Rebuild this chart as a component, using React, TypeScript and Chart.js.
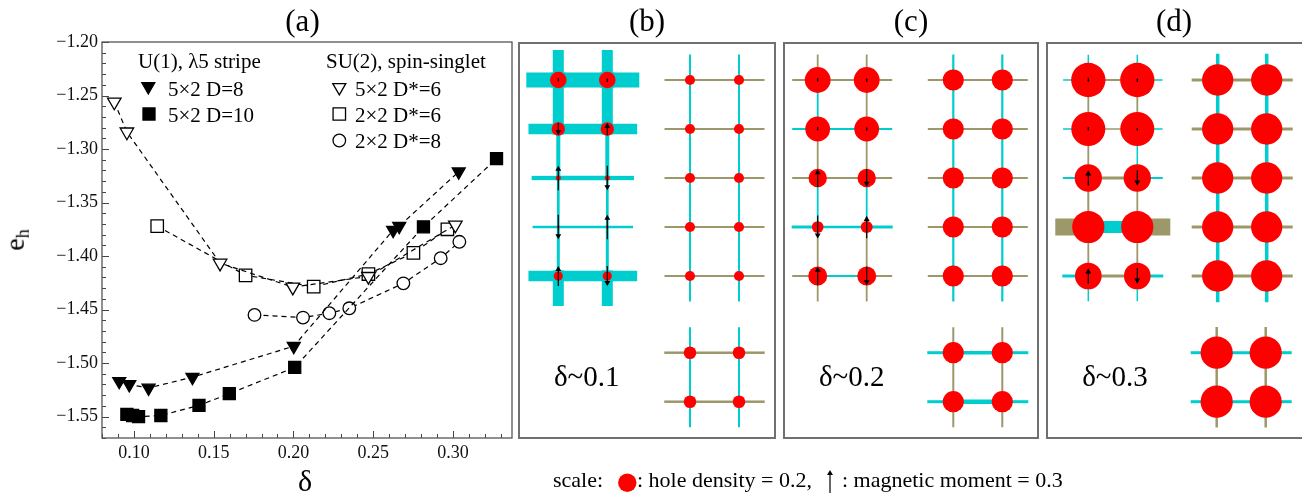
import React, { useEffect, useRef } from "react";
import Chart from "chart.js/auto";

const SERIF = "'Liberation Serif', 'Times New Roman', serif";

// ---------------- Panel (a) data ----------------
const filledTriX = [0.0908, 0.0971, 0.1092, 0.1367, 0.2002, 0.2625, 0.2663, 0.3036];
const filledTriY = [-1.517, -1.520, -1.5232, -1.5132, -1.4842, -1.3758, -1.3721, -1.3212];
const filledSqX = [0.0956, 0.0992, 0.1029, 0.1169, 0.1408, 0.1598, 0.2008, 0.2815, 0.3273];
const filledSqY = [-1.548, -1.549, -1.550, -1.549, -1.5395, -1.5286, -1.504, -1.3727, -1.309];
const openTriX = [0.0877, 0.0956, 0.1540, 0.1996, 0.2470, 0.3015];
const openTriY = [-1.256, -1.284, -1.4066, -1.429, -1.419, -1.371];
const openSqX = [0.1146, 0.1700, 0.2127, 0.2470, 0.2752, 0.2965];
const openSqY = [-1.372, -1.418, -1.4286, -1.4168, -1.397, -1.375];
const openCircX = [0.1756, 0.2060, 0.2225, 0.2350, 0.2689, 0.2923, 0.3040];
const openCircY = [-1.455, -1.4575, -1.4534, -1.4488, -1.4255, -1.402, -1.3867];

const xMajorTicks = [0.10, 0.15, 0.20, 0.25, 0.30];
const yMajorTicks = [-1.55, -1.50, -1.45, -1.40, -1.35, -1.30, -1.25, -1.20];
const X_MIN = 0.08, X_MAX = 0.337, Y_MIN = -1.57, Y_MAX = -1.20;

const legendLeftTitle = "U(1), λ5 stripe";
const legendRightTitle = "SU(2), spin-singlet";
const seriesLabels = ["5×2 D=8", "5×2 D=10", "5×2 D*=6", "2×2 D*=6", "2×2 D*=8"];

// ---------------- Lattice panels data ----------------
// bond value: sign -> colour (+ cyan, - olive), magnitude -> width
// panel (b) δ~0.1
const bStripeDensity = [[0.18, 0.18], [0.145, 0.145], [0.055, 0.055], [0.03, 0.03], [0.10, 0.10]];
const bStripeMoment = [[-0.05, 0.05], [-0.16, 0.16], [0.32, -0.32], [-0.32, 0.32], [0.26, -0.26]];
const bStripeHBond = [0.15, 0.107, 0.043, 0.025, 0.107];
const bStripeHStub = [0.15, 0.107, 0.043, 0.025, 0.107];
const bStripeVBond = [[0.11, 0.04, 0.027, 0.03], [0.11, 0.04, 0.027, 0.03]];
const bStripeVStub = [0.11, 0.11];

const bSinglet5Density = [[0.11, 0.11], [0.11, 0.11], [0.11, 0.11], [0.11, 0.11], [0.11, 0.11]];
const bSinglet5HBond = [-0.02, -0.02, -0.02, -0.02, -0.02];
const bSinglet5HStub = [-0.02, -0.02, -0.02, -0.02, -0.02];
const bSinglet5VBond = [[0.02, 0.02, 0.02, 0.02], [0.02, 0.02, 0.02, 0.02]];
const bSinglet5VStub = [0.02, 0.02];

const bSinglet2Density = [[0.137, 0.137], [0.137, 0.137]];
const bSinglet2HBond = [-0.025, -0.025];
const bSinglet2HStub = [-0.025, -0.025];
const bSinglet2VBond = [[0.02], [0.02]];
const bSinglet2VStub = [0.02, 0.02];

// panel (c) δ~0.2
const cStripeDensity = [[0.28, 0.28], [0.27, 0.27], [0.20, 0.20], [0.127, 0.13], [0.206, 0.206]];
const cStripeMoment = [[-0.05, 0.05], [-0.05, 0.05], [0.23, -0.23], [-0.30, 0.29], [0.24, -0.24]];
const cStripeHBond = [-0.02, 0.02, -0.02, 0.025, 0.02];
const cStripeHStub = [-0.02, 0.02, -0.02, 0.03, -0.02];
const cStripeVBond = [[0.018, -0.018, 0.018, -0.018], [-0.018, -0.018, 0.018, -0.018]];
const cStripeVStub = [-0.018, -0.018];

const cSinglet5Density = [[0.23, 0.23], [0.23, 0.23], [0.23, 0.23], [0.23, 0.23], [0.23, 0.23]];
const cSinglet5HBond = [-0.02, -0.02, -0.02, -0.02, -0.02];
const cSinglet5HStub = [-0.02, -0.02, -0.02, -0.02, -0.02];
const cSinglet5VBond = [[0.022, 0.022, 0.022, 0.022], [0.022, 0.022, 0.022, 0.022]];
const cSinglet5VStub = [0.022, 0.022];

const cSinglet2Density = [[0.23, 0.23], [0.23, 0.23]];
const cSinglet2HBond = [0.035, 0.045];
const cSinglet2HStub = [0.03, 0.03];
const cSinglet2VBond = [[-0.02], [-0.02]];
const cSinglet2VStub = [-0.02, -0.02];

// panel (d) δ~0.3
const dStripeDensity = [[0.373, 0.373], [0.37, 0.37], [0.297, 0.297], [0.35, 0.35], [0.29, 0.29]];
const dStripeMoment = [[-0.06, 0.05], [-0.05, 0.04], [0.2, -0.2], [0, 0], [0.2, -0.2]];
const dStripeHBond = [-0.02, -0.015, -0.03, 0.12, -0.03];
const dStripeHStub = [0.015, 0.015, 0.02, -0.17, 0.03];
const dStripeVBond = [[-0.018, -0.018, -0.02, -0.018], [-0.018, 0.015, -0.018, -0.018]];
const dStripeVStub = [0.015, 0.015];

const dSinglet5Density = [[0.34, 0.34], [0.34, 0.34], [0.34, 0.34], [0.34, 0.34], [0.34, 0.34]];
const dSinglet5HBond = [-0.03, -0.03, -0.03, -0.03, -0.03];
const dSinglet5HStub = [-0.03, -0.03, -0.03, -0.03, -0.03];
const dSinglet5VBond = [[0.035, 0.035, 0.035, 0.035], [0.035, 0.035, 0.035, 0.035]];
const dSinglet5VStub = [0.035, 0.035];

const dSinglet2Density = [[0.35, 0.35], [0.35, 0.35]];
const dSinglet2HBond = [0.03, 0.03];
const dSinglet2HStub = [0.03, 0.03];
const dSinglet2VBond = [[-0.025], [-0.025]];
const dSinglet2VStub = [-0.025, -0.025];

const scaleDensity = 0.2;
const scaleMoment = 0.3;
const panelLabels = ["δ~0.1", "δ~0.2", "δ~0.3"];

// ---------------- drawing constants ----------------
const UNIT = 49; // px per lattice spacing
const STUB = 0.5;
const BOND_PX = 100;
const DENSITY_PX = 46;
const MOMENT_PX = 77;
const CYAN = "#00cdcd";
const OLIVE = "#9d9869";

type Lattice = {
  density: number[][];
  moment: number[][] | null;
  hBond: number[];
  hStub: number[];
  vBond: number[][];
  vStub: number[];
};

function arrowDatasets(pts: { x: number; y: number; m: number }[]) {
  const ds: any[] = [];
  const heads: any[] = [];
  const rot: number[] = [];
  const rad: number[] = [];
  for (const p of pts) {
    if (!p.m) continue;
    const Lpx = Math.abs(p.m) * MOMENT_PX;
    const L = Lpx / UNIT;
    const up = p.m > 0;
    const dir = up ? -1 : 1;
    const tipY = p.y + (dir * L) / 2;
    const tailY = p.y - (dir * L) / 2;
    const rh = Math.min(3.4, Lpx * 0.3);
    const headY = tipY - (dir * rh) / UNIT;
    ds.push({
      data: [{ x: p.x, y: tailY }, { x: p.x, y: headY }],
      showLine: true,
      borderColor: "#000",
      borderWidth: 1.2,
      pointRadius: 0,
      pointHoverRadius: 0,
      order: 1,
      clip: false,
    });
    heads.push({ x: p.x, y: headY });
    rot.push(up ? 0 : 180);
    rad.push(rh);
  }
  if (heads.length)
    ds.push({
      data: heads,
      showLine: false,
      pointStyle: "triangle",
      pointRotation: rot,
      pointRadius: rad,
      pointHoverRadius: rad,
      pointBackgroundColor: "#000",
      pointBorderColor: "#000",
      pointBorderWidth: 0,
      order: 0,
      clip: false,
    });
  return ds;
}

function siteDataset(pts: { x: number; y: number }[], dens: number[]) {
  const radii = dens.map((d) => d * DENSITY_PX);
  return {
    data: pts,
    showLine: false,
    pointStyle: "circle",
    pointRadius: radii,
    pointHoverRadius: radii,
    pointBackgroundColor: "#ff0000",
    pointBorderColor: "#ff0000",
    pointBorderWidth: 0,
    order: 2,
    clip: false,
  };
}

function latticeDatasets(lat: Lattice, ox: number, oy: number) {
  const ds: any[] = [];
  const n = lat.density.length;
  const bond = (x1: number, y1: number, x2: number, y2: number, v: number) =>
    ds.push({
      data: [{ x: x1, y: y1 }, { x: x2, y: y2 }],
      showLine: true,
      borderColor: v >= 0 ? CYAN : OLIVE,
      borderWidth: Math.abs(v) * BOND_PX,
      borderCapStyle: "square",
      pointRadius: 0,
      pointHoverRadius: 0,
      order: 3,
      clip: false,
    });
  for (let c = 0; c < 2; c++) {
    const x = ox + c;
    bond(x, oy - STUB, x, oy, lat.vStub[c]);
    for (let r = 0; r < n - 1; r++) bond(x, oy + r, x, oy + r + 1, lat.vBond[c][r]);
    bond(x, oy + n - 1, x, oy + n - 1 + STUB, lat.vStub[c]);
  }
  for (let r = 0; r < n; r++) {
    const y = oy + r;
    bond(ox - STUB, y, ox, y, lat.hStub[r]);
    bond(ox, y, ox + 1, y, lat.hBond[r]);
    bond(ox + 1, y, ox + 1 + STUB, y, lat.hStub[r]);
  }
  const pts: any[] = [];
  const dens: number[] = [];
  const arrows: any[] = [];
  for (let r = 0; r < n; r++)
    for (let c = 0; c < 2; c++) {
      pts.push({ x: ox + c, y: oy + r });
      dens.push(lat.density[r][c]);
      if (lat.moment) arrows.push({ x: ox + c, y: oy + r, m: lat.moment[r][c] });
    }
  ds.push(siteDataset(pts, dens));
  ds.push(...arrowDatasets(arrows));
  return ds;
}

function panelConfig(width: number, height: number, datasets: any[]) {
  return {
    type: "scatter",
    data: { datasets },
    options: {
      responsive: false,
      animation: false,
      events: [],
      layout: { padding: 0, autoPadding: false },
      plugins: { legend: { display: false }, tooltip: { enabled: false } },
      scales: {
        x: { type: "linear", display: false, min: 0, max: width / UNIT },
        y: { type: "linear", display: false, min: 0, max: height / UNIT, reverse: true },
      },
    },
  };
}

function ChartCanvas(props: { left: number; top: number; width: number; height: number; make: () => any }) {
  const ref = useRef<HTMLCanvasElement>(null);
  useEffect(() => {
    const ch = new Chart(ref.current as HTMLCanvasElement, props.make());
    return () => ch.destroy();
  }, []);
  return (
    <canvas
      ref={ref}
      width={props.width}
      height={props.height}
      style={{ position: "absolute", left: props.left, top: props.top, width: props.width, height: props.height }}
    />
  );
}

function Txt(props: { x: number; base: number; size: number; center?: boolean; children: any }) {
  return (
    <div
      style={{
        position: "absolute",
        left: props.x,
        top: props.base - 0.8375 * props.size,
        fontSize: props.size,
        lineHeight: 1,
        fontFamily: SERIF,
        whiteSpace: "nowrap",
        color: "#000",
        transform: props.center ? "translateX(-50%)" : undefined,
      }}
    >
      {props.children}
    </div>
  );
}

// --------------- Panel (a) chart ---------------
function drawMarker(ctx: CanvasRenderingContext2D, kind: string, x: number, y: number, r: number, filled: boolean) {
  ctx.beginPath();
  if (kind === "tri") {
    ctx.moveTo(x, y + r);
    ctx.lineTo(x - r * 0.866, y - r / 2);
    ctx.lineTo(x + r * 0.866, y - r / 2);
    ctx.closePath();
  } else if (kind === "sq") {
    const s = r * Math.SQRT1_2;
    ctx.rect(x - s, y - s, 2 * s, 2 * s);
  } else {
    ctx.arc(x, y, r, 0, Math.PI * 2);
  }
  ctx.fillStyle = filled ? "#000" : "#fff";
  ctx.fill();
  ctx.lineWidth = 1.3;
  ctx.strokeStyle = "#000";
  ctx.stroke();
}

const frameTicks = {
  id: "frameTicks",
  beforeDatasetsDraw(chart: any) {
    const { ctx, chartArea, scales } = chart;
    const { left, right, top, bottom } = chartArea;
    ctx.save();
    ctx.strokeStyle = "#444";
    ctx.lineWidth = 1;
    ctx.beginPath();
    for (let i = Math.ceil(X_MIN * 100); i <= Math.floor(X_MAX * 100); i++) {
      const px = Math.round(scales.x.getPixelForValue(i / 100)) + 0.5;
      const len = i % 5 === 0 ? 7 : 4;
      ctx.moveTo(px, bottom);
      ctx.lineTo(px, bottom - len);
    }
    for (let i = Math.ceil(Y_MIN * 100); i <= Math.floor(Y_MAX * 100); i++) {
      const py = Math.round(scales.y.getPixelForValue(i / 100)) + 0.5;
      const len = i % 5 === 0 ? 7 : 4;
      ctx.moveTo(left, py);
      ctx.lineTo(left + len, py);
    }
    ctx.stroke();
    ctx.lineWidth = 1.3;
    ctx.strokeStyle = "#555";
    ctx.strokeRect(left, top, right - left, bottom - top);
    ctx.restore();
  },
  afterDatasetsDraw(chart: any) {
    const ctx = chart.ctx;
    ctx.save();
    drawMarker(ctx, "tri", 148.3, 86.4, 7.5, true);
    drawMarker(ctx, "sq", 149, 114, 8.5, true);
    drawMarker(ctx, "tri", 339.3, 87.4, 7.5, false);
    drawMarker(ctx, "sq", 339.3, 114, 8.8, false);
    drawMarker(ctx, "circ", 339.3, 140.5, 6.3, false);
    ctx.restore();
  },
};

const pts = (xs: number[], ys: number[]) => xs.map((x, i) => ({ x, y: ys[i] }));

function seriesDs(label: string, xs: number[], ys: number[], style: string, rot: number, r: number, filled: boolean) {
  return {
    label,
    data: pts(xs, ys),
    showLine: true,
    borderColor: "#000",
    borderWidth: 1.2,
    borderDash: [5, 4],
    fill: false,
    pointStyle: style,
    pointRotation: rot,
    pointRadius: r,
    pointHoverRadius: r,
    pointBackgroundColor: filled ? "#000" : "#fff",
    pointBorderColor: "#000",
    pointBorderWidth: 1.3,
  };
}

function mainConfig() {
  return {
    type: "scatter",
    data: {
      datasets: [
        seriesDs(seriesLabels[0], filledTriX, filledTriY, "triangle", 180, 7.5, true),
        seriesDs(seriesLabels[1], filledSqX, filledSqY, "rect", 0, 8.5, true),
        seriesDs(seriesLabels[2], openTriX, openTriY, "triangle", 180, 7.8, false),
        seriesDs(seriesLabels[3], openSqX, openSqY, "rect", 0, 8.8, false),
        seriesDs(seriesLabels[4], openCircX, openCircY, "circle", 0, 6.3, false),
      ],
    },
    options: {
      responsive: false,
      animation: false,
      events: [],
      layout: { padding: { left: 0, right: 8, top: 42, bottom: 0 }, autoPadding: false },
      plugins: { legend: { display: false }, tooltip: { enabled: false } },
      scales: {
        x: {
          type: "linear",
          min: X_MIN,
          max: X_MAX,
          afterBuildTicks: (s: any) => {
            s.ticks = xMajorTicks.map((v) => ({ value: v }));
          },
          afterFit: (s: any) => {
            s.height = 55;
          },
          ticks: {
            callback: (v: any) => Number(v).toFixed(2),
            font: { family: SERIF, size: 18 },
            color: "#111",
            padding: 4,
            maxRotation: 0,
            autoSkip: false,
          },
          grid: { display: false, drawTicks: false },
          border: { display: false },
        },
        y: {
          type: "linear",
          min: Y_MIN,
          max: Y_MAX,
          afterBuildTicks: (s: any) => {
            s.ticks = yMajorTicks.map((v) => ({ value: v }));
          },
          afterFit: (s: any) => {
            s.width = 102;
          },
          ticks: {
            callback: (v: any) => "\u2212" + Math.abs(Number(v)).toFixed(2),
            font: { family: SERIF, size: 18 },
            color: "#111",
            padding: 4,
            autoSkip: false,
          },
          grid: { display: false, drawTicks: false },
          border: { display: false },
        },
      },
    },
    plugins: [frameTicks],
  };
}

// ----------- panel layout (page px) -------------
const panels = [
  {
    left: 518, width: 258,
    stripe: { density: bStripeDensity, moment: bStripeMoment, hBond: bStripeHBond, hStub: bStripeHStub, vBond: bStripeVBond, vStub: bStripeVStub },
    s5: { density: bSinglet5Density, moment: null, hBond: bSinglet5HBond, hStub: bSinglet5HStub, vBond: bSinglet5VBond, vStub: bSinglet5VStub },
    s2: { density: bSinglet2Density, moment: null, hBond: bSinglet2HBond, hStub: bSinglet2HStub, vBond: bSinglet2VBond, vStub: bSinglet2VStub },
    ox: [40.3, 172, 172], title: "(b)", label: panelLabels[0], labelX: 586.7,
  },
  {
    left: 783, width: 256,
    stripe: { density: cStripeDensity, moment: cStripeMoment, hBond: cStripeHBond, hStub: cStripeHStub, vBond: cStripeVBond, vStub: cStripeVStub },
    s5: { density: cSinglet5Density, moment: null, hBond: cSinglet5HBond, hStub: cSinglet5HStub, vBond: cSinglet5VBond, vStub: cSinglet5VStub },
    s2: { density: cSinglet2Density, moment: null, hBond: cSinglet2HBond, hStub: cSinglet2HStub, vBond: cSinglet2VBond, vStub: cSinglet2VStub },
    ox: [34.7, 170.3, 170.3], title: "(c)", label: panelLabels[1], labelX: 851.7,
  },
  {
    left: 1046, width: 262,
    stripe: { density: dStripeDensity, moment: dStripeMoment, hBond: dStripeHBond, hStub: dStripeHStub, vBond: dStripeVBond, vStub: dStripeVStub },
    s5: { density: dSinglet5Density, moment: null, hBond: dSinglet5HBond, hStub: dSinglet5HStub, vBond: dSinglet5VBond, vStub: dSinglet5VStub },
    s2: { density: dSinglet2Density, moment: null, hBond: dSinglet2HBond, hStub: dSinglet2HStub, vBond: dSinglet2VBond, vStub: dSinglet2VStub },
    ox: [42.3, 171.7, 170.7], title: "(d)", label: panelLabels[2], labelX: 1115,
  },
];
const PANEL_TOP = 42;
const PANEL_H = 397;
const ROW0 = 38; // px from panel top
const ROW_BOTTOM = 310.7;

function scaleConfig() {
  const w = 280, h = 48;
  const site = siteDataset([{ x: (627.3 - 600) / UNIT, y: (482.7 - 445) / UNIT }], [scaleDensity]);
  const arr = arrowDatasets([{ x: (830 - 600) / UNIT, y: (481.5 - 445) / UNIT, m: scaleMoment }]);
  return panelConfig(w, h, [site, ...arr]);
}

export default function App() {
  return (
    <div
      style={{
        position: "fixed",
        left: 0,
        top: 0,
        width: 1302,
        height: 493,
        overflow: "hidden",
        background: "#fff",
        fontFamily: SERIF,
      }}
    >
      <ChartCanvas left={0} top={0} width={520} height={493} make={mainConfig} />
      <Txt x={302.5} base={31} size={31} center>(a)</Txt>
      <Txt x={138} base={68.3} size={21}>{legendLeftTitle}</Txt>
      <Txt x={168} base={96.5} size={21}>{seriesLabels[0]}</Txt>
      <Txt x={168} base={122.7} size={21}>{seriesLabels[1]}</Txt>
      <Txt x={326} base={68.3} size={21}>{legendRightTitle}</Txt>
      <Txt x={355} base={96.5} size={21}>{seriesLabels[2]}</Txt>
      <Txt x={355} base={122.7} size={21}>{seriesLabels[3]}</Txt>
      <Txt x={355} base={148.3} size={21}>{seriesLabels[4]}</Txt>
      <Txt x={305} base={491} size={30} center>δ</Txt>
      <div
        style={{
          position: "absolute",
          left: 16,
          top: 240,
          transform: "translate(-50%, -50%) rotate(-90deg)",
          fontSize: 28,
          lineHeight: 1,
          fontFamily: SERIF,
          whiteSpace: "nowrap",
        }}
      >
        e<span style={{ fontSize: 18, verticalAlign: "-0.25em" }}>h</span>
      </div>

      {panels.map((p, i) => (
        <React.Fragment key={i}>
          <ChartCanvas
            left={p.left}
            top={PANEL_TOP}
            width={p.width}
            height={PANEL_H}
            make={() =>
              panelConfig(p.width, PANEL_H, [
                ...latticeDatasets(p.stripe as Lattice, p.ox[0] / UNIT, ROW0 / UNIT),
                ...latticeDatasets(p.s5 as Lattice, p.ox[1] / UNIT, ROW0 / UNIT),
                ...latticeDatasets(p.s2 as Lattice, p.ox[2] / UNIT, ROW_BOTTOM / UNIT),
              ])
            }
          />
          <div
            style={{
              position: "absolute",
              left: p.left,
              top: PANEL_TOP,
              width: p.width,
              height: PANEL_H,
              boxSizing: "border-box",
              border: "2px solid #707070",
              pointerEvents: "none",
            }}
          />
          <Txt x={p.left + p.width / 2 - (i === 2 ? 3 : 0)} base={31} size={31} center>{p.title}</Txt>
          <Txt x={p.labelX} base={386} size={29} center>{p.label}</Txt>
        </React.Fragment>
      ))}

      <ChartCanvas left={600} top={445} width={280} height={48} make={scaleConfig} />
      <Txt x={553} base={487.5} size={22}>scale:</Txt>
      <Txt x={637} base={487.5} size={22}>: hole density = 0.2,</Txt>
      <Txt x={842} base={487.5} size={22}>: magnetic moment = 0.3</Txt>
    </div>
  );
}
